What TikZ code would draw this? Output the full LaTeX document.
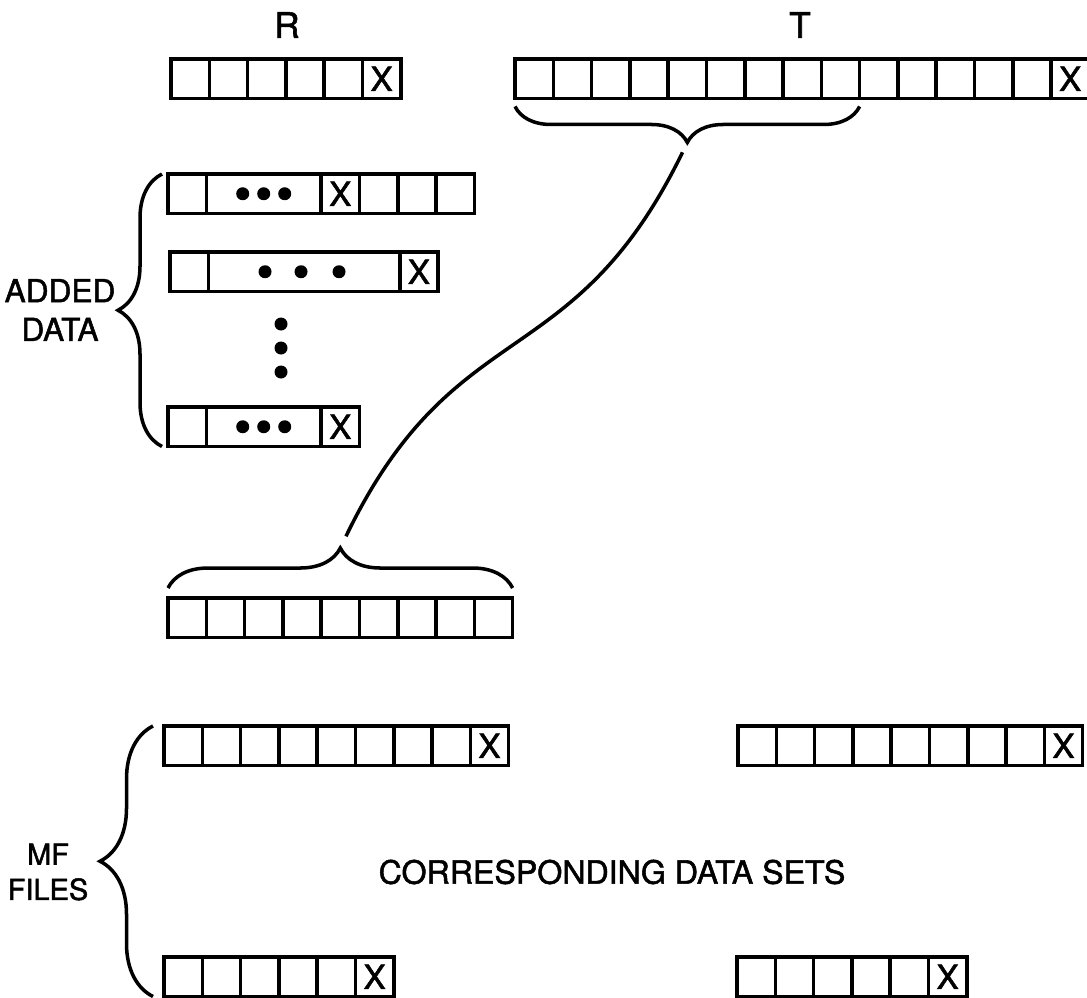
\documentclass[tikz,border=0pt]{standalone}
\usepackage{fontspec}
\setmainfont[FakeBold=1.6]{TeX Gyre Heros}
\usetikzlibrary{positioning, calc, decorations.pathreplacing}

\begin{document}
\begin{tikzpicture}[
  x=0.02cm, y=-0.02cm,
  cell/.style={draw, line width=2pt, minimum width=0.766cm, minimum height=0.79cm,
               inner sep=0pt, outer sep=0pt, font=\fontsize{19}{19}\selectfont},
  wide/.style={cell, minimum width=#1*0.766cm},
  curly/.style={decorate, decoration={brace, amplitude=#1}, line width=2pt},
  lbl/.style={align=center, font=\fontsize{18}{22}\selectfont},
  head/.style={font=\fontsize{20}{20}\selectfont},
  link/.style={line width=2pt},
]
\useasboundingbox (0,0) rectangle (1087,997);

% ---- R and T records ----
\node[head] (rlab) at (287,25) {R};
\node[head] (tlab) at (800,25) {T};

\node[cell, anchor=north west] (r1) at (171,59) {};
\foreach \i [count=\j from 1] in {2,...,5}
  \node[cell, right=0pt of r\j] (r\i) {};
\node[cell, right=0pt of r5] (r6) {X};

\node[cell, anchor=north west] (t1) at (515,59) {};
\foreach \i [count=\j from 1] in {2,...,14}
  \node[cell, right=0pt of t\j] (t\i) {};
\node[cell, right=0pt of t14] (t15) {X};

% ---- Added data records ----
\node[cell, anchor=north west] (a1) at (168,174) {};
\node[wide=3, right=0pt of a1] (a2) {};
\node[cell, right=0pt of a2] (a3) {X};
\node[cell, right=0pt of a3] (a4) {};
\node[cell, right=0pt of a4] (a5) {};
\node[cell, right=0pt of a5] (a6) {};
\foreach \d in {-21,0,21}
  \fill ($(a2.center)+(\d,0)$) circle (0.13cm);

\node[cell, anchor=north west] (b1) at (170,252) {};
\node[wide=5, right=0pt of b1] (b2) {};
\node[cell, right=0pt of b2] (b3) {X};
\foreach \d in {-39,-3,35}
  \fill ($(b2.center)+(\d,0)$) circle (0.13cm);

\foreach \y in {324,348,372}
  \fill (281,\y) circle (0.13cm);

\node[cell, anchor=north west] (c1) at (168,407) {};
\node[wide=3, right=0pt of c1] (c2) {};
\node[cell, right=0pt of c2] (c3) {X};
\foreach \d in {-21,0,21}
  \fill ($(c2.center)+(\d,0)$) circle (0.13cm);

% ---- Extracted record ----
\node[cell, anchor=north west] (l1) at (168,598) {};
\foreach \i [count=\j from 1] in {2,...,9}
  \node[cell, right=0pt of l\j] (l\i) {};

% ---- MF files (left) and corresponding data sets (right) ----
\node[cell, anchor=north west] (m1) at (164,726) {};
\foreach \i [count=\j from 1] in {2,...,8}
  \node[cell, right=0pt of m\j] (m\i) {};
\node[cell, right=0pt of m8] (m9) {X};

\node[cell, anchor=north west] (n1) at (164,957) {};
\foreach \i [count=\j from 1] in {2,...,5}
  \node[cell, right=0pt of n\j] (n\i) {};
\node[cell, right=0pt of n5] (n6) {X};

\node[cell, anchor=north west] (p1) at (738,726) {};
\foreach \i [count=\j from 1] in {2,...,8}
  \node[cell, right=0pt of p\j] (p\i) {};
\node[cell, right=0pt of p8] (p9) {X};

\node[cell, anchor=north west] (q1) at (737,957) {};
\foreach \i [count=\j from 1] in {2,...,5}
  \node[cell, right=0pt of q\j] (q\i) {};
\node[cell, right=0pt of q5] (q6) {X};

% ---- Braces ----
\draw[curly=0.72cm] ($(t9.south east)+(0,8)$) -- ($(t1.south west)+(0,8)$);
\coordinate (ttip) at ($(t1.south west)!0.5!(t9.south east)+(0,44)$);

\draw[curly=0.8cm] ($(l1.north west)+(0,-10)$) -- ($(l9.north east)+(0,-10)$);
\coordinate (ltip) at ($(l1.north west)!0.5!(l9.north east)+(0,-50)$);

\draw[curly=0.88cm] ($(c1.south west)+(-6,0)$) -- ($(a1.north west)+(-6,0)$);
\coordinate (atip) at ($(c1.south west)!0.5!(a1.north west)+(-50,0)$);

\draw[curly=1.06cm] ($(n1.south west)+(-11,0)$) -- ($(m1.north west)+(-11,0)$);
\coordinate (mtip) at ($(n1.south west)!0.5!(m1.north west)+(-64,0)$);

% ---- Link from T field to extracted record ----
\draw[link, shorten <=0.22cm, shorten >=0.26cm]
  (ttip) .. controls +(-115,236) and +(115,-238) .. (ltip);

% ---- Labels ----
\node[lbl] (added) at (60,310) {ADDED\\DATA};
\node[lbl, font=\fontsize{16.5}{20}\selectfont] (mf) at (48,872) {MF\\FILES};
\node[lbl, font=\fontsize{18.3}{21}\selectfont] (corr) at (612,872) {CORRESPONDING DATA SETS};

\end{tikzpicture}
\end{document}
